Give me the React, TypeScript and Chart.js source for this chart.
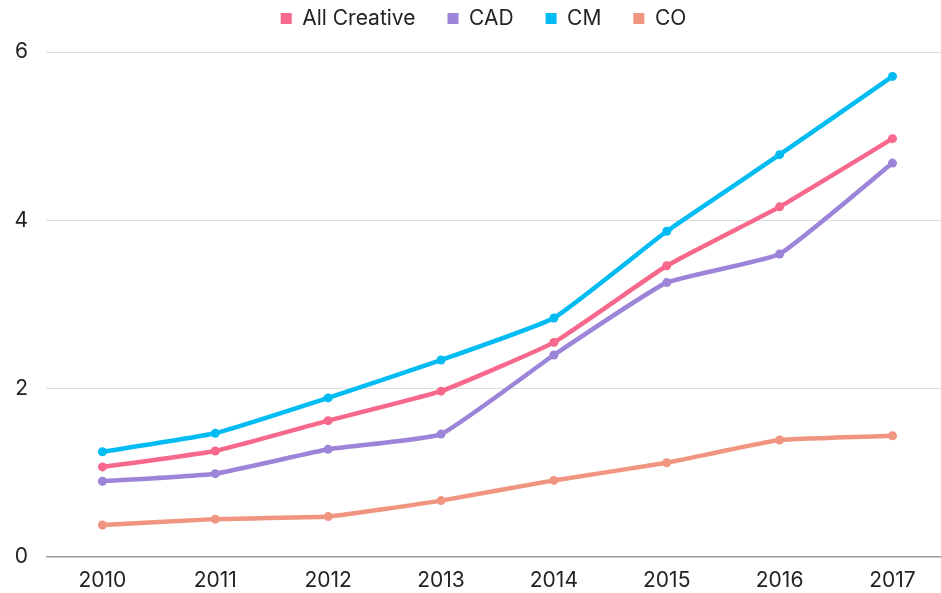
import React, { useEffect, useRef } from "react";
import { Chart, registerables } from "chart.js";

Chart.register(...registerables);

const years = [2010, 2011, 2012, 2013, 2014, 2015, 2016, 2017];
const allCreative = [1.07, 1.26, 1.62, 1.97, 2.55, 3.46, 4.16, 4.97];
const cad = [0.9, 0.99, 1.28, 1.46, 2.4, 3.26, 3.6, 4.68];
const cm = [1.25, 1.47, 1.89, 2.34, 2.84, 3.87, 4.78, 5.71];
const co = [0.38, 0.45, 0.48, 0.67, 0.91, 1.12, 1.39, 1.44];
const yTicks = [0, 2, 4, 6];

const seriesNames = ["All Creative", "CAD", "CM", "CO"];
const seriesColors = ["#F7698C", "#9C84D8", "#00BCF2", "#F0957F"];

const legendFix = {
  id: "legendFix",
  beforeLayout(chart: any) {
    const lg = chart.legend;
    if (lg && !lg.__patched) {
      const orig = lg.fit;
      lg.fit = function () {
        orig.call(this);
        this.height = 76;
      };
      lg.__patched = true;
    }
  },
  afterLayout(chart: any) {
    const lg = chart.legend;
    if (lg) {
      lg.left += 13;
      lg.right += 13;
    }
  },
};

export default function App() {
  const ref = useRef<HTMLCanvasElement | null>(null);
  useEffect(() => {
    document.body.style.margin = "0";
    const ctx = ref.current;
    if (!ctx) return;
    const all = [allCreative, cad, cm, co];
    const chart = new Chart(ctx, {
      type: "line",
      data: {
        datasets: all.map((vals, i) => ({
          label: seriesNames[i],
          data: vals.map((v, j) => ({ x: years[j], y: v })),
          borderColor: seriesColors[i],
          backgroundColor: seriesColors[i],
          pointBackgroundColor: seriesColors[i],
          pointBorderColor: seriesColors[i],
          borderWidth: 4.5,
          pointRadius: 4.5,
          pointBorderWidth: 0,
          tension: 0.12,
          clip: false,
        })),
      },
      plugins: [legendFix],
      options: {
        animation: false,
        responsive: false,
        maintainAspectRatio: false,
        layout: { autoPadding: false, padding: { top: -24, right: 0, bottom: 0, left: 0 } },
        font: { family: "Inter" },
        plugins: {
          tooltip: { enabled: false },
          legend: {
            position: "top",
            labels: {
              usePointStyle: true,
              pointStyle: "rect",
              boxWidth: 11,
              boxHeight: 11,
              padding: 32,
              color: "#222",
              font: { family: "Inter", size: 21 },
            },
          },
        },
        scales: {
          x: {
            type: "linear",
            min: 2009.5,
            max: 2017.43,
            afterBuildTicks: (axis: any) => {
              axis.ticks = years.map((y) => ({ value: y }));
            },
            afterFit: (axis: any) => {
              axis.paddingLeft = 0;
              axis.paddingRight = 0;
              axis.height = 36;
            },
            grid: { display: false, drawTicks: false },
            border: { display: false },
            ticks: {
              color: "#222",
              padding: 11,
              maxRotation: 0,
              font: { family: "Inter", size: 21 },
              callback: (v: any) => String(v),
            },
          },
          y: {
            min: 0,
            max: 6,
            afterBuildTicks: (axis: any) => {
              axis.ticks = yTicks.map((v) => ({ value: v }));
            },
            afterFit: (axis: any) => {
              axis.width = 46;
            },
            grid: {
              drawTicks: false,
              color: (c: any) => (c.tick && c.tick.value === 0 ? "#9a9a9a" : "#dddddd"),
              lineWidth: (c: any) => (c.tick && c.tick.value === 0 ? 1.5 : 1),
            },
            border: { display: false },
            ticks: {
              color: "#222",
              padding: 18,
              font: { family: "Inter", size: 21 },
            },
          },
        },
      },
    });
    return () => chart.destroy();
  }, []);
  return <canvas ref={ref} width={941} height={593} style={{ display: "block" }} />;
}
